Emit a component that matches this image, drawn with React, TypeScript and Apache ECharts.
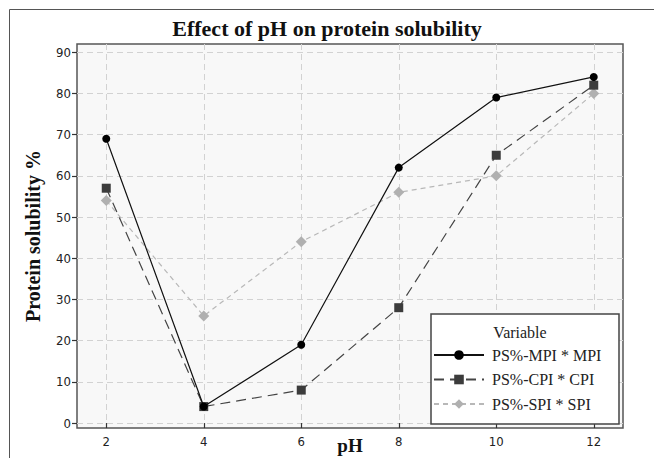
import React, { useEffect, useRef } from "react";
import * as echarts from "echarts";

const phValues = [2, 4, 6, 8, 10, 12];
const mpi = [69, 4, 19, 62, 79, 84];
const cpi = [57, 4, 8, 28, 65, 82];
const spi = [54, 26, 44, 56, 60, 80];
const xTicks = [2, 4, 6, 8, 10, 12];
const yTicks = [0, 10, 20, 30, 40, 50, 60, 70, 80, 90];
const seriesNames = ["PS%-MPI * MPI", "PS%-CPI * CPI", "PS%-SPI * SPI"];

const pairs = (ys: number[]) => phValues.map((x, i) => [x, ys[i]]);

export default function App() {
  const ref = useRef<HTMLDivElement>(null);
  useEffect(() => {
    if (!ref.current) return;
    const chart = echarts.init(ref.current, undefined, { renderer: "svg" });
    const tickFont = { fontFamily: "DejaVu Sans Condensed", fontSize: 13, color: "#222" };
    chart.setOption({
      animation: false,
      backgroundColor: "#ffffff",
      title: {
        text: "Effect of pH on protein solubility",
        left: "center",
        top: 17,
        padding: 0,
        textStyle: { fontFamily: "Liberation Serif", fontWeight: "bold", fontSize: 22, color: "#111" },
      },
      grid: {
        left: 77,
        right: 31,
        top: 44,
        bottom: 30,
        outerBoundsMode: "none",
        containLabel: false,
        show: true,
        backgroundColor: "#f8f8f8",
        borderColor: "#555",
        borderWidth: 1.5,
      },
      xAxis: {
        type: "value",
        min: 1.4,
        max: 12.6,
        name: "pH",
        nameLocation: "middle",
        nameGap: 8,
        nameMoveOverlap: false,
        nameTextStyle: { fontFamily: "Liberation Serif", fontWeight: "bold", fontSize: 19, color: "#111", verticalAlign: "top" },
        axisLine: { show: false },
        axisTick: { show: true, inside: false, length: 5, customValues: xTicks, lineStyle: { color: "#333", width: 1.2 } },
        axisLabel: { customValues: xTicks, margin: 7, ...tickFont },
        splitLine: { show: true, lineStyle: { color: "#d2d2d2", type: [6, 4], width: 1 } },
      },
      yAxis: {
        type: "value",
        min: -1.2,
        max: 92,
        name: "Protein solubility %",
        nameLocation: "middle",
        nameGap: 34,
        nameMoveOverlap: false,
        nameTextStyle: { fontFamily: "Liberation Serif", fontWeight: "bold", fontSize: 20, color: "#111" },
        axisLine: { show: false },
        axisTick: { show: true, inside: false, length: 5, customValues: yTicks, lineStyle: { color: "#333", width: 1.2 } },
        axisLabel: { customValues: yTicks, margin: 6, ...tickFont },
        splitLine: { show: true, lineStyle: { color: "#d2d2d2", type: [6, 4], width: 1 } },
      },
      legend: {
        orient: "vertical",
        left: 433,
        top: 346,
        padding: 0,
        itemWidth: 50,
        itemHeight: 12,
        itemGap: 6.5,
        z: 8,
        data: seriesNames,
        textStyle: { fontFamily: "Liberation Serif", fontSize: 16, color: "#222", lineHeight: 18, padding: [0, 0, 0, 3] },
      },
      graphic: [
        {
          type: "rect",
          shape: { x: 9.5, y: 9.5, width: 700, height: 500 },
          style: { fill: "none", stroke: "#555", lineWidth: 1 },
          z: 0,
          silent: true,
        },
        {
          type: "rect",
          shape: { x: 431, y: 314, width: 188, height: 110 },
          style: { fill: "#ffffff", stroke: "#444", lineWidth: 1.5 },
          z: 6,
          silent: true,
        },
        {
          type: "text",
          x: 520,
          y: 332,
          style: {
            text: "Variable",
            fontFamily: "Liberation Serif",
            fontSize: 16,
            fill: "#222",
            align: "center",
            verticalAlign: "middle",
          },
          z: 7,
          silent: true,
        },
      ],
      series: [
        {
          name: seriesNames[0],
          type: "line",
          data: pairs(mpi),
          symbol: "circle",
          symbolSize: 8,
          itemStyle: { color: "#000000" },
          lineStyle: { color: "#111111", width: 1.2, type: "solid" },
          z: 4,
        },
        {
          name: seriesNames[1],
          type: "line",
          data: pairs(cpi),
          symbol: "rect",
          symbolSize: 9,
          itemStyle: { color: "#3c3c3c" },
          lineStyle: { color: "#444444", width: 1.2, type: [10, 6] },
          z: 3,
        },
        {
          name: seriesNames[2],
          type: "line",
          data: pairs(spi),
          symbol: "diamond",
          symbolSize: 11,
          itemStyle: { color: "#b0b0b0" },
          lineStyle: { color: "#b8b8b8", width: 1.2, type: [5, 4] },
          z: 2,
        },
      ],
    });
    return () => chart.dispose();
  }, []);
  return <div ref={ref} style={{ position: "fixed", left: 0, top: 0, width: 654, height: 458 }} />;
}
